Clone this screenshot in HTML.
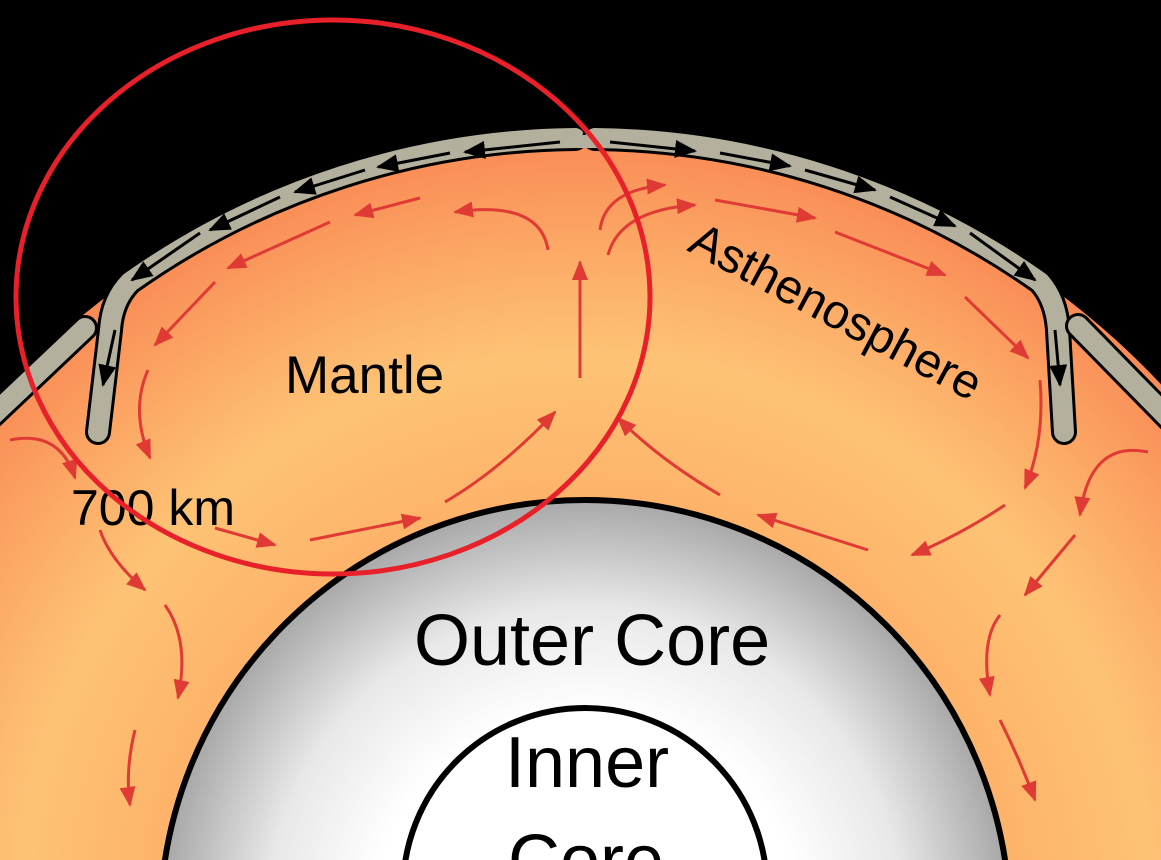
<!DOCTYPE html>
<html><head><meta charset="utf-8"><style>
html,body{margin:0;padding:0;background:#000;width:1161px;height:860px;overflow:hidden;}
svg{display:block;}
text{font-family:"Liberation Sans",sans-serif;fill:#000;}
</style></head><body>
<svg width="1161" height="860" viewBox="0 0 1161 860" xmlns="http://www.w3.org/2000/svg">
<defs>
<radialGradient id="mantle" cx="585" cy="925" r="790" gradientUnits="userSpaceOnUse">
<stop offset="0.55" stop-color="#fdb46a"/>
<stop offset="0.72" stop-color="#fdc375"/>
<stop offset="0.85" stop-color="#fcaa66"/>
<stop offset="1" stop-color="#f98a55"/>
</radialGradient>
<radialGradient id="oc" cx="585" cy="925" r="425" gradientUnits="userSpaceOnUse">
<stop offset="0.5" stop-color="#ffffff"/>
<stop offset="0.75" stop-color="#e8e8e8"/>
<stop offset="1" stop-color="#a8a8a8"/>
</radialGradient>
<marker id="rh2" markerWidth="20" markerHeight="16" refX="18" refY="8" orient="auto" markerUnits="userSpaceOnUse" viewBox="0 0 20 16">
<path d="M0,0 L20,8 L0,16 z" fill="#e03a35"/>
</marker>
<marker id="bh" markerWidth="22" markerHeight="18" refX="20" refY="9" orient="auto" markerUnits="userSpaceOnUse" viewBox="0 0 22 18">
<path d="M0,0 L22,9 L0,18 z" fill="#000"/>
</marker>
</defs>
<rect width="1161" height="860" fill="#000"/>
<circle cx="585" cy="925" r="790" fill="url(#mantle)"/>
<g fill="none" stroke-linecap="round" stroke-linejoin="round">
<path d="M575,138 A785,785 0 0 0 130,282 Q112,300 110,330 L98,432" stroke="#000" stroke-width="26"/>
<path d="M575,138 A785,785 0 0 0 130,282 Q112,300 110,330 L98,432" stroke="#b3b09d" stroke-width="20"/>
<path d="M595,138 A785,785 0 0 1 1040,282 Q1056,300 1058,330 L1064,432" stroke="#000" stroke-width="26"/>
<path d="M595,138 A785,785 0 0 1 1040,282 Q1056,300 1058,330 L1064,432" stroke="#b3b09d" stroke-width="20"/>
<path d="M-10,418 L85,328" stroke="#000" stroke-width="26"/>
<path d="M-10,418 L85,328" stroke="#b3b09d" stroke-width="20"/>
<path d="M1078,326 L1175,425" stroke="#000" stroke-width="26"/>
<path d="M1078,326 L1175,425" stroke="#b3b09d" stroke-width="20"/>
</g>
<path d="M572,130 Q585,140 598,130 L600,148 L570,148 z" fill="#b3b09d"/>
<g stroke="#000" stroke-width="3" fill="none" marker-end="url(#bh)">
<path d="M560,142 L465,152"/><path d="M450,153 L378,167"/><path d="M365,170 L295,192"/>
<path d="M280,197 L210,230"/><path d="M200,233 L132,280"/><path d="M115,330 L103,385"/>
<path d="M610,142 L695,151"/><path d="M720,153 L790,166"/><path d="M805,170 L875,190"/>
<path d="M890,197 L955,226"/><path d="M970,233 L1035,280"/><path d="M1055,330 L1060,385"/>
</g>
<circle cx="585" cy="925" r="425" fill="url(#oc)" stroke="#000" stroke-width="6"/>
<circle cx="585" cy="890" r="182" fill="#fff" stroke="#000" stroke-width="6"/>
<g stroke="#e03a35" stroke-width="3" fill="none" marker-end="url(#rh2)">
<path d="M548,250 Q540,200 455,212"/>
<path d="M420,198 L355,215"/><path d="M330,222 L228,268"/><path d="M215,282 L155,345"/>
<path d="M148,370 Q130,410 150,458"/>
<path d="M215,528 L275,545"/><path d="M310,540 Q360,530 420,518"/><path d="M445,502 Q500,470 555,412"/>
<path d="M580,378 L580,262"/>
<path d="M600,230 Q605,190 665,185"/>
<path d="M608,255 Q620,210 695,205"/>
<path d="M715,200 L815,218"/><path d="M835,232 L945,275"/><path d="M965,297 L1028,358"/>
<path d="M1040,380 Q1045,440 1025,488"/><path d="M1005,505 Q960,535 912,555"/>
<path d="M868,550 L758,515"/><path d="M720,495 Q660,460 618,418"/>
<path d="M10,440 Q60,430 75,478"/><path d="M100,530 Q110,560 145,590"/>
<path d="M165,605 Q190,640 178,698"/><path d="M135,730 Q125,770 130,805"/>
<path d="M1148,452 Q1090,440 1080,515"/><path d="M1075,535 L1025,595"/>
<path d="M1000,615 Q980,640 990,695"/><path d="M1000,720 Q1020,760 1035,800"/>
</g>
<text x="285" y="393" font-size="53">Mantle</text>
<text x="71" y="525" font-size="50">700 km</text>
<text x="0" y="0" font-size="48" transform="translate(686,250) rotate(28)">Asthenosphere</text>
<text x="414" y="665" font-size="72">Outer Core</text>
<text x="505" y="787" font-size="72">Inner</text>
<text x="508" y="885" font-size="72">Core</text>
<ellipse cx="333" cy="297" rx="317" ry="277" fill="none" stroke="#e8202a" stroke-width="5"/>
</svg>
</body></html>
